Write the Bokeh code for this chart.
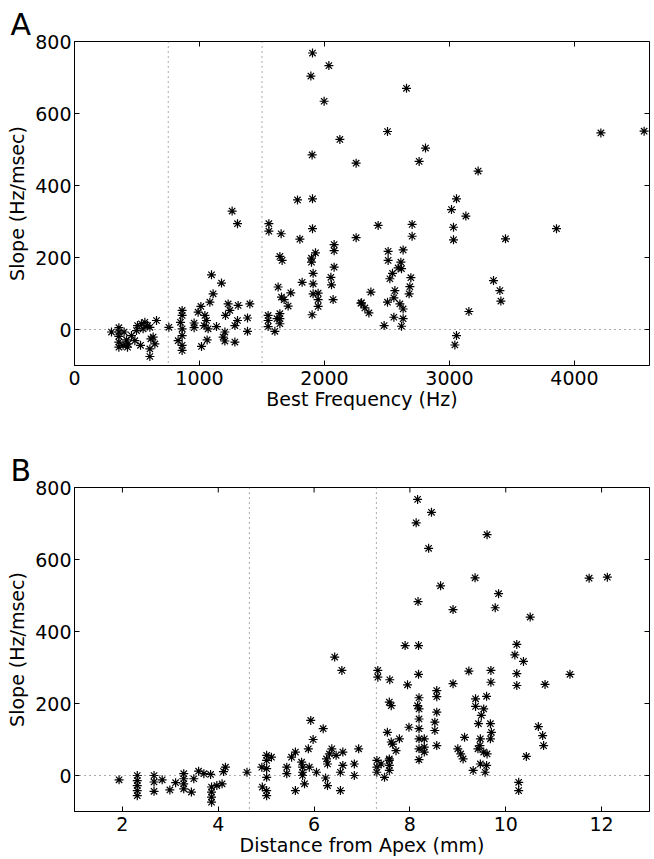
import math
from bokeh.plotting import figure
from bokeh.models import Span, FixedTicker
from bokeh.layouts import column
from bokeh.embed import file_html
from bokeh.resources import INLINE

# ---------------- Panel A data: Best frequency (Hz) vs slope (Hz/msec)
bf_a = [1784, 1904, 1261, 1304, 1555, 1555, 1653, 1904, 1803, 2253, 2077, 2077, 1928, 1896, 1896,
        1643, 1661, 2077, 1909, 2051, 2056, 1821, 1909, 1629, 1730, 1656, 1677, 1709, 1949, 1909,
        1949, 1949, 1901, 2069, 2291, 1549, 1549, 1549, 1643, 1643, 1643, 1603, 1620,
        3056, 3016, 3131, 2429, 2701, 2701, 3032, 3032, 3448, 3856, 2509, 2629, 2509, 2611, 2589,
        2616, 2544, 2523, 2691, 2683, 2677, 2371, 2563, 2555, 2504, 2603, 2629, 2296, 2323, 2355,
        2555, 2629, 2477, 2616, 3352, 3403, 3411, 3155, 3056, 3043,
        1904, 1891, 1997, 1901, 2035, 2656, 2123, 2504, 2808, 2757, 2253, 3229, 4211, 4557,
        1096, 1176, 1109, 1083, 1011, 989, 861, 861, 848, 861, 861, 829, 861, 861, 755, 957, 957,
        1043, 1056, 1037, 1069, 1136, 1016, 1061, 1203, 1189, 1203, 1283, 1229, 1243, 1309, 1208,
        1304, 1283, 1403, 1384, 1384,
        296, 355, 355, 355, 355, 355, 397, 416, 427, 456, 483, 496, 504, 536, 549, 563, 584, 603,
        611, 603, 603, 629, 643, 656, 528, 389, 424]
slope_a = [360, 363, 329, 294, 294, 273, 266, 280, 251, 255, 236, 219, 213, 198, 187,
           203, 192, 173, 156, 145, 124, 131, 127, 118, 102, 90, 83, 65, 101, 99,
           83, 64, 41, 83, 73, 39, 25, 8, 44, 30, 16, -5, 30,
           363, 333, 315, 289, 292, 259, 284, 249, 252, 280, 217, 221, 192, 187, 171,
           169, 156, 141, 144, 119, 99, 104, 108, 88, 76, 71, 57, 74, 60, 46,
           34, 30, 11, 9, 136, 108, 79, 50, -17, -43,
           768, 704, 634, 485, 733, 670, 528, 550, 504, 467, 462, 440, 546, 551,
           152, 129, 99, 76, 64, 48, 53, 39, 20, 2, -17, -31, -44, -58, 6, 18, 5,
           39, 25, 11, 2, 8, -47, -29, -7, -21, -32, -35, 71, 53, 67, 39,
           25, 11, 71, 32, -5,
           -7, -7, -19, -35, -49, 5, -7, -29, -40, -17, -31, -3, 11, 16, 2, 20, 11, 6,
           -26, -54, -75, -21, -40, 25, -44, -44, -49]

# ---------------- Panel B data: distance from apex (mm) vs slope (Hz/msec)
dist_b = [1.93, 2.31, 2.31, 2.31, 2.31, 2.31, 2.66, 2.66, 2.66, 2.83, 2.99, 3.11, 3.28, 3.28, 3.28,
          3.28, 3.44, 3.49, 3.59, 3.70, 3.84, 3.86, 3.86, 3.86, 3.86, 3.97, 4.08, 4.11, 4.15, 4.60,
          4.91, 4.92, 5.01, 5.01, 5.01, 5.01, 5.01, 5.01, 5.11, 5.43, 5.43, 5.53, 5.61, 5.61, 5.74,
          5.76, 5.76, 5.76, 5.80, 5.88, 5.93, 5.98, 5.90, 6.05, 6.19, 6.24, 6.26, 6.28, 6.37, 6.43,
          6.58, 6.32, 6.46, 6.60, 6.60, 6.55, 6.55, 6.28,
          6.84, 6.84, 6.93, 7.33, 7.33, 7.58, 7.90, 8.18, 8.18, 7.95, 7.57, 7.61, 7.53, 7.61, 7.78,
          7.71, 7.64, 7.31, 7.31, 7.31, 7.47, 7.57, 7.57, 7.57, 7.57, 7.40, 7.98, 8.19, 8.16, 8.19,
          8.19, 8.19, 8.19, 8.30, 8.19, 8.30, 8.30, 8.19, 8.56, 8.56, 8.56, 8.52, 8.52, 8.56, 8.90,
          9.23, 9.14, 9.00, 9.06, 9.11, 9.32, 9.37, 9.37, 9.60, 9.54, 9.49, 9.43, 9.42, 9.47, 9.46,
          9.54, 9.61, 9.60, 9.47, 9.57, 9.68, 9.70, 9.68, 9.69, 9.69, 10.23, 10.19, 10.37, 10.23,
          10.23, 10.27, 10.27, 10.43, 10.68, 10.77, 10.79, 10.82, 11.34,
          8.16, 8.13, 8.45, 8.39, 9.61, 9.36, 8.64, 9.85, 9.78, 8.17, 8.90, 10.51, 11.74, 12.12]
slope_b = [-12, 0, -14, -28, -42, -56, 0, -18, -44, -12, -40, -20, 5, -9, -23,
           -37, -46, -9, 12, 5, 3, -32, -46, -60, -74, -28, -23, 11, 23, 9,
           23, -32, 56, 42, 19, -5, -42, -56, 51, 23, 5, 51, 65, -42, 37,
           23, 9, 0, -23, 74, 153, 100, 23, 9, 130, -7, 46, 32, 74, 329,
           292, 60, 56, 65, 28, 9, -42, -28,
           32, 0, 74, 292, 273, 266, 361, 361, 281, 252, 204, 194, 120, 93, 102,
           69, 87, 42, 23, 9, -5, 46, 42, 28, 14, 32, 134, 216, 194, 185,
           157, 130, 102, 102, 74, 79, 65, 44, 236, 219, 176, 148, 125, 83, 255,
           290, 106, 74, 60, 46, 14, 213, 192, 220, 185, 167, 144, 74, 102, 83,
           65, 60, 28, 32, 9, 144, 120, 102, 292, 259, 364, 335, 317, 283,
           250, -19, -42, 53, 136, 111, 83, 253, 281,
           767, 702, 731, 631, 669, 549, 527, 505, 466, 483, 461, 440, 548, 551]

x_ticks_a = [0, 1000, 2000, 3000, 4000]
x_ticks_b = [2, 4, 6, 8, 10, 12]
y_ticks = [0, 200, 400, 600, 800]
bounds_a = [750, 1500]
bounds_b = [4.65, 7.3]
y_lim = (-100, 800)

FONT = "DejaVu Sans"


def style_axis(ax):
    ax.axis_line_color = "black"
    ax.axis_line_width = 1
    ax.major_tick_in = 5
    ax.major_tick_out = 0
    ax.minor_tick_line_color = None
    ax.major_tick_line_color = "black"
    ax.major_label_text_font = FONT
    ax.major_label_text_font_size = "19px"
    ax.major_label_text_color = "black"
    ax.axis_label_text_font = FONT
    ax.axis_label_text_font_size = "19px"
    ax.axis_label_text_font_style = "normal"
    ax.axis_label_text_color = "black"


def make_panel(xs, ys, xr, xticks, bounds, xlabel, letter, height, top, bottom):
    p = figure(width=654, height=height, x_range=xr, y_range=y_lim,
               output_backend="svg", toolbar_location=None,
               min_border_left=74, min_border_right=5, min_border_top=top,
               min_border_bottom=bottom)
    p.grid.visible = False
    p.outline_line_color = "black"
    p.background_fill_color = "white"
    p.border_fill_color = "white"

    p.title.text = letter
    p.title.text_font = FONT
    p.title.text_font_size = "30px"
    p.title.text_font_style = "normal"
    p.title.text_color = "black"
    p.title.align = "left"
    p.title.offset = -64
    p.title.standoff = 0

    style_axis(p.xaxis[0])
    style_axis(p.yaxis[0])
    p.xaxis[0].ticker = FixedTicker(ticks=xticks)
    p.yaxis[0].ticker = FixedTicker(ticks=y_ticks)
    p.xaxis[0].axis_label = xlabel
    p.xaxis[0].major_label_standoff = 5
    p.xaxis[0].axis_label_standoff = 0
    p.yaxis[0].axis_label = "Slope (Hz/msec)"
    p.yaxis[0].major_label_standoff = 3
    p.yaxis[0].axis_label_standoff = 4

    # inward tick marks on the top and right edges of the box
    p.scatter(xticks, [y_lim[1]] * len(xticks), marker="dash", angle=math.pi / 2,
              size=10, line_color="black", line_width=1)
    p.scatter([xr[1]] * len(y_ticks), y_ticks, marker="dash",
              size=10, line_color="black", line_width=1)

    p.add_layout(Span(location=0, dimension="width", line_color="#555555",
                      line_dash="1 4", line_width=1))
    for b in bounds:
        p.add_layout(Span(location=b, dimension="height", line_color="#555555",
                          line_dash="1 4", line_width=1))

    p.scatter(xs, ys, marker="asterisk", size=9, line_color="black", line_width=1.2)
    return p


pa = make_panel(bf_a, slope_a, (0, 4600), x_ticks_a, bounds_a, "Best Frequency (Hz)", "A",
                425, 41, 60)
pb = make_panel(dist_b, slope_b, (1, 13), x_ticks_b, bounds_b, "Distance from Apex (mm)", "B",
                434, 62, 48)

layout = column(pa, pb, spacing=0)
open("out.html", "w").write(file_html(layout, INLINE))
